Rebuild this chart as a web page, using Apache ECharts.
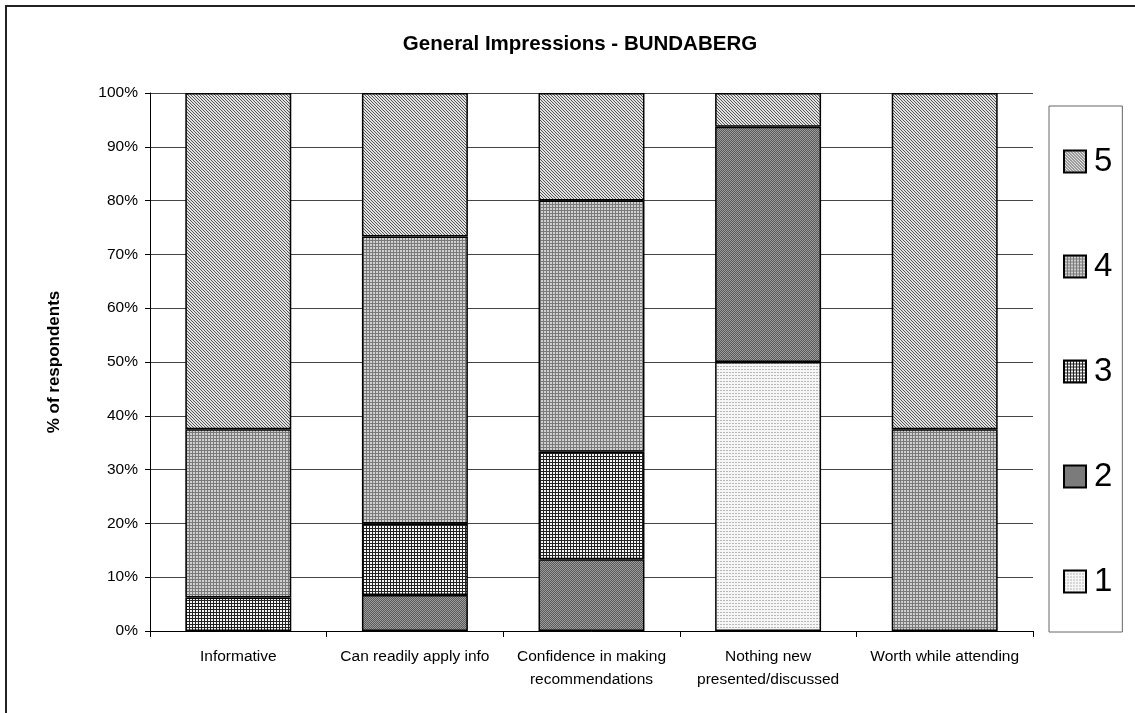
<!DOCTYPE html>
<html>
<head>
<meta charset="utf-8">
<script src="https://cdn.jsdelivr.net/npm/echarts@6/dist/echarts.min.js"></script>
<style>
  html, body { margin: 0; padding: 0; background: #fff; }
  #chart { width: 1135px; height: 713px; }
</style>
</head>
<body>
<div id="chart"></div>
<script>
var categories = ['Informative', 'Can readily apply info', 'Confidence in making\nrecommendations', 'Nothing new\npresented/discussed', 'Worth while attending'];
// % of respondents per rating, one array per rating
var rating1 = [0, 0, 0, 50, 0];
var rating2 = [0, 6.67, 13.33, 43.75, 0];
var rating3 = [6.25, 13.33, 20, 0, 0];
var rating4 = [31.25, 53.33, 46.67, 0, 37.5];
var rating5 = [62.5, 26.67, 20, 6.25, 62.5];
var ratingNames = ['1', '2', '3', '4', '5'];

// small pixel tiles imitating the old hatch fills
function tile(w, h, fn) {
    var c = document.createElement('canvas');
    c.width = w; c.height = h;
    var ctx = c.getContext('2d');
    for (var y = 0; y < h; y++) {
        for (var x = 0; x < w; x++) {
            ctx.fillStyle = fn(x, y);
            ctx.fillRect(x, y, 1, 1);
        }
    }
    return { image: c, repeat: 'repeat' };
}

var fills = {
    '1': tile(3, 3, function (x, y) { return (y === 0 && x !== 2) ? '#b8b8b8' : '#f6f6f6'; }),
    '2': tile(2, 2, function (x, y) { return (x + y) % 2 ? '#5a5a5a' : '#9c9c9c'; }),
    '3': tile(3, 3, function (x, y) { return (x === 0 || y === 0) ? '#222' : '#f4f4f4'; }),
    '4': tile(3, 3, function (x, y) { return (x === 0 || y === 0) ? '#7a7a7a' : '#d0d0d0'; }),
    '5': tile(3, 3, function (x, y) { return ((x - y + 6) % 3 === 0) ? '#555' : '#e2e2e2'; })
};

var values = [rating1, rating2, rating3, rating4, rating5];

var myChart = echarts.init(document.getElementById('chart'));

var series = [];
for (var i = 0; i < ratingNames.length; i++) {
    series.push({
        name: ratingNames[i],
        type: 'bar',
        stack: 'total',
        barWidth: '60%',
        itemStyle: {
            color: fills[ratingNames[i]],
            borderColor: '#000',
            borderWidth: 1.5
        },
        emphasis: { disabled: true },
        data: values[i].map(function (v) { return v === 0 ? '-' : v; })
    });
}

var option = {
    animation: false,
    textStyle: { fontFamily: 'Liberation Sans, Arial, sans-serif' },
    title: {
        text: 'General Impressions - BUNDABERG',
        left: 575,
        top: 29,
        textAlign: 'center',
        textStyle: { fontSize: 20.5, fontWeight: 'bold', color: '#000' }
    },
    graphic: [{
        type: 'rect',
        shape: { x: 6, y: 6, width: 1300, height: 900 },
        style: { fill: 'none', stroke: '#222', lineWidth: 2 },
        silent: true
    }],
    legend: {
        orient: 'vertical',
        left: 1049,
        top: 106,
        data: ['5', '4', '3', '2', '1'],
        icon: 'rect',
        itemWidth: 22,
        itemHeight: 22,
        itemGap: 72,
        padding: [39, 10, 34, 14],
        borderColor: '#666',
        borderWidth: 1,
        selectedMode: false,
        textStyle: { fontSize: 33, color: '#000', padding: [0, 0, 0, 3] }
    },
    grid: {
        left: 150,
        right: 102,
        top: 93,
        bottom: 82
    },
    xAxis: {
        type: 'category',
        data: categories,
        axisLine: { lineStyle: { color: '#000', width: 1 } },
        axisTick: { show: true, length: 6, lineStyle: { color: '#000' } },
        axisLabel: { fontSize: 15.5, color: '#000', margin: 14, lineHeight: 23, interval: 0 }
    },
    yAxis: {
        type: 'value',
        min: 0,
        max: 100,
        interval: 10,
        name: '% of respondents',
        nameLocation: 'middle',
        nameGap: 87,
        nameTextStyle: { fontSize: 17, fontWeight: 'bold', color: '#000' },
        axisLine: { show: true, lineStyle: { color: '#000', width: 1 } },
        axisTick: { show: true, length: 5, lineStyle: { color: '#000' } },
        axisLabel: { fontSize: 15.5, color: '#000', margin: 12, formatter: '{value}%' },
        splitLine: { lineStyle: { color: '#444', width: 1 } }
    },
    series: series
};

myChart.setOption(option);
</script>
</body>
</html>
